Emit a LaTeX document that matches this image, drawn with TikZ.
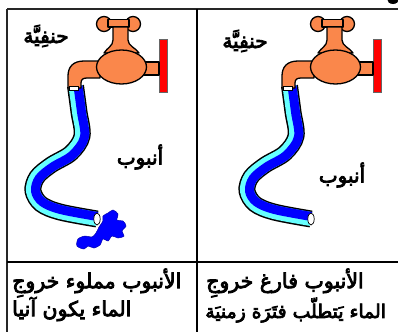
\documentclass[tikz,border=0pt]{standalone}
\usepackage{fontspec}
\TeXXeTstate=1
\newfontfamily\arabicfont[Script=Arabic,FakeBold=4]{DejaVu Sans}
\definecolor{tapcol}{RGB}{250,135,75}
\definecolor{pipelight}{RGB}{102,255,255}
\definecolor{pipedark}{RGB}{0,0,255}
\tikzset{
  outl/.style={draw=black,line width=1.3pt,line join=round},
  brass/.style={outl,fill=tapcol},
  lbl/.style={font=\arabicfont\fontsize{20}{22}\selectfont,inner sep=0pt},
  txt/.style={font=\arabicfont\fontsize{20.5}{22}\selectfont,inner sep=0pt,anchor=west},
  % the flexible hose hanging from the spout
  hose/.pic={
    \draw[line width=17pt,black] plot[smooth,tension=.55] coordinates
      {(75.5,86) (79,112) (82,136) (71,153) (51,165) (37,177) (33,191) (41,204) (60,212) (97,219)};
    \draw[line width=14pt,pipelight] plot[smooth,tension=.55] coordinates
      {(75.5,86) (79,112) (82,136) (71,153) (51,165) (37,177) (33,191) (41,204) (60,212) (97,219)};
    \draw[line width=9pt,pipedark] plot[smooth,tension=.55] coordinates
      {(78,86) (81.5,112) (84.5,137) (72.5,155) (52.5,167) (39.2,178.3) (35.5,191) (42.5,202) (60.5,209.5) (97.4,216.5)};
    \draw[black,fill=white,line width=.7pt] (97,219) ellipse (3.2 and 6);
  },
  % the tap with its handle, body, spout and wall plate
  tap/.pic={
    \draw[draw=black!60,fill=red,line width=.6pt] (159,39) rectangle (167,92);
    \draw[brass] (142,62) rectangle (159,75);
    \draw[brass] (104,24) circle (7.5);
    \draw[brass] (133,24) circle (7.5);
    \draw[brass] (108,19.5) rectangle (129,27);
    \draw[brass] (113,27) -- (113,40) .. controls (113,46) and (107,48) .. (104,53)
      -- (139,53) .. controls (136,48) and (128,46) .. (128,40) -- (128,27) -- cycle;
    \draw[brass] (100,61) -- (84,61) .. controls (73,61) and (68,67) .. (68,76)
      -- (68,88) -- (81,88) -- (81,83) .. controls (81,79.5) and (83,78) .. (87,78)
      -- (100,78) -- cycle;
    \draw[brass] (121.5,67) ellipse (25 and 17);
    \draw[black,fill=white,line width=.7pt] (69.5,86.5) rectangle (78.5,90.5);
  }
}
\begin{document}
\begin{tikzpicture}[x=1pt,y=-1pt]
\useasboundingbox (0,0) rectangle (398,332);
\clip (0,0) rectangle (398,332);
\fill[white] (0,0) rectangle (398,332);

% left panel: full hose, water gushing out at once
\pic at (0,0) {hose};
\pic at (0,0) {tap};
\draw[pipedark!70!black,fill=pipedark,line width=.5pt] plot[smooth cycle,tension=.5] coordinates
  {(108,213) (113,210) (118,214) (117,220) (123,221) (126,226) (122,231) (124,236)
   (118,238) (112,236) (108,241) (103,239) (100,245) (94,248) (88,246) (84,249)
   (77,246) (78,239) (85,236) (92,237) (96,233) (99,227) (103,221) (103,216)};

% right panel: empty hose
\pic at (214,0) {hose};
\pic at (214,0) {tap};

% table rules
\draw[line width=1.5pt,black!85] (7,9) -- (398,9);
\draw[line width=1.5pt,black!85] (7,9) -- (7,332);
\draw[line width=2.5pt] (197,9) -- (197,332);
\draw[line width=2.5pt] (7,262) -- (398,262);
\fill[black] (393,-1) ellipse (6 and 5);

% labels
\node[lbl] (tapL) at (46,36) {حنفِيَّة};
\node[lbl] (tapR) at (245,41) {حنفِيَّة};
\node[lbl] (hoseL) at (140,157) {أنبوب};
\node[lbl] (hoseR) at (342,175) {أنبوب};

\node[txt] (fullA) at (12,283) {\beginR الأنبوب مملوء خروجِ\endR};
\node[txt] (fullB) at (12,309) {\beginR الماء يكون آنيا\endR};
\node[txt] (emptyA) at (206,283) {\beginR الأنبوب فارغ خروجِ\endR};
\node[txt,font=\arabicfont\fontsize{18.8}{22}\selectfont] (emptyB) at (205,310)
  {\beginR الماء يَتطلّب فتَرَة زمنيَة\endR};
\end{tikzpicture}
\end{document}
